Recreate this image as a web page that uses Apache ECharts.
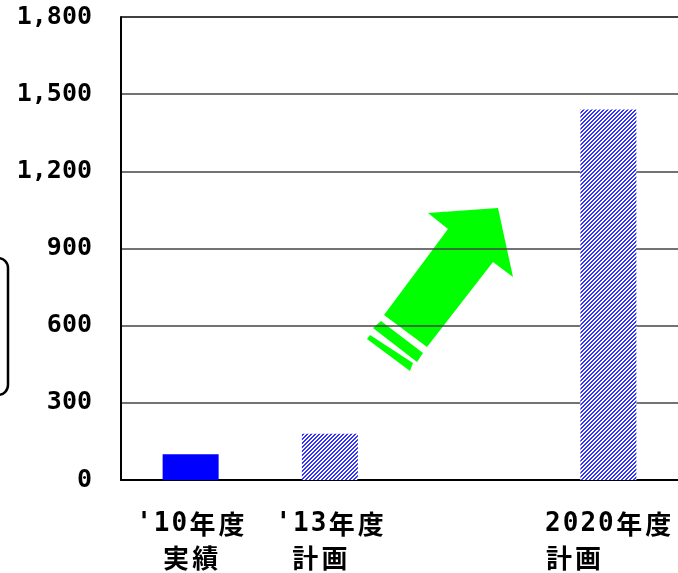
<!DOCTYPE html>
<html><head><meta charset="utf-8">
<script src="https://cdn.jsdelivr.net/npm/echarts@6/dist/echarts.min.js"></script>
<style>html,body{margin:0;padding:0;background:#fff}#c{width:678px;height:573px}</style>
</head><body><div id="c"></div>
<script>
var categories = ["'10年度\n実績", "'13年度\n計画", "", "2020年度\n計画"];
var values = [100, 180, null, 1440];
var yTicks = [0, 300, 600, 900, 1200, 1500, 1800];

function hatch() {
  var c = document.createElement('canvas');
  c.width = 4; c.height = 4;
  var g = c.getContext('2d');
  g.fillStyle = '#ffffff'; g.fillRect(0, 0, 4, 4);
  g.fillStyle = '#3333ff';
  for (var x = 0; x < 4; x++) for (var y = 0; y < 4; y++) {
    if ((x + y) % 4 === 0 || (x + y) % 4 === 1) g.fillRect(x, y, 1, 1);
  }
  return c;
}
var pat = { image: hatch(), repeat: 'repeat' };

function spaced(s) {
  var out = '';
  for (var i = 0; i < s.length; i++) {
    var ch = s[i];
    out += (ch.charCodeAt(0) < 128 ? '{n|' : '{k|') + ch + '}';
  }
  return out;
}

var base = { fontWeight: 'bold', fontSize: 26, color: '#000', lineHeight: 34 };
var rich = {
  n: Object.assign({}, base, { fontFamily: 'DejaVu Sans Mono', padding: [0, 1, 0, 1] }),
  k: Object.assign({}, base, { fontFamily: 'Noto Sans CJK JP', padding: [0, 1.5, 0, 1.5] }),
  p20: { width: 20, height: 1 },
  p70: { width: 70, height: 1 }
};

var chart = echarts.init(document.getElementById('c'));
chart.setOption({
  animation: false,
  grid: { left: 121, right: 0, top: 17, bottom: 93 },
  xAxis: {
    type: 'category', data: categories,
    axisLine: { lineStyle: { color: '#000', width: 2 } },
    axisTick: { inside: true, length: 10, lineStyle: { color: '#777', width: 2 } },
    axisLabel: {
      margin: 27, interval: 0,
      formatter: function (v, i) {
        if (!v) return '';
        var p = v.split('\n');
        var l2 = spaced(p[1]);
        if (i === 1) l2 += '{p20| }';
        if (i === 3) l2 += '{p70| }';
        return spaced(p[0]) + '\n' + l2;
      },
      rich: rich
    }
  },
  yAxis: {
    type: 'value', min: yTicks[0], max: yTicks[yTicks.length - 1], interval: 300,
    axisLine: { show: true, lineStyle: { color: '#000', width: 2 } },
    axisTick: { show: false },
    splitLine: { lineStyle: { color: ['#444', '#444', '#444', '#444', '#444', '#444', '#000'], width: 1.5 } },
    axisLabel: {
      margin: 29, color: '#000', fontFamily: 'DejaVu Sans Mono', fontWeight: 'bold', fontSize: 25,
      padding: [8, 0, 0, 0],
      formatter: function (v) { return v.toLocaleString('en-US'); }
    }
  },
  series: [{
    type: 'bar', barWidth: 56,
    data: values.map(function (v, i) {
      return { value: v === null ? '-' : v, itemStyle: { color: i === 0 ? '#0000ff' : pat } };
    })
  }],
  graphic: [
    { type: 'rect', shape: { x: -30, y: 258, width: 38, height: 137, r: 10 }, style: { fill: 'none', stroke: '#000', lineWidth: 2.5 } },
    { type: 'polygon', shape: { points: [[428,213],[498,208],[513,277],[493,262],[427,347],[384,315],[448,229]] }, style: { fill: '#00ff00' } },
    { type: 'polygon', shape: { points: [[381,321],[423,353],[417,362],[373,328]] }, style: { fill: '#00ff00' } },
    { type: 'polygon', shape: { points: [[370,335],[413,363],[410,371],[367,339]] }, style: { fill: '#00ff00' } }
  ]
});
</script></body></html>
